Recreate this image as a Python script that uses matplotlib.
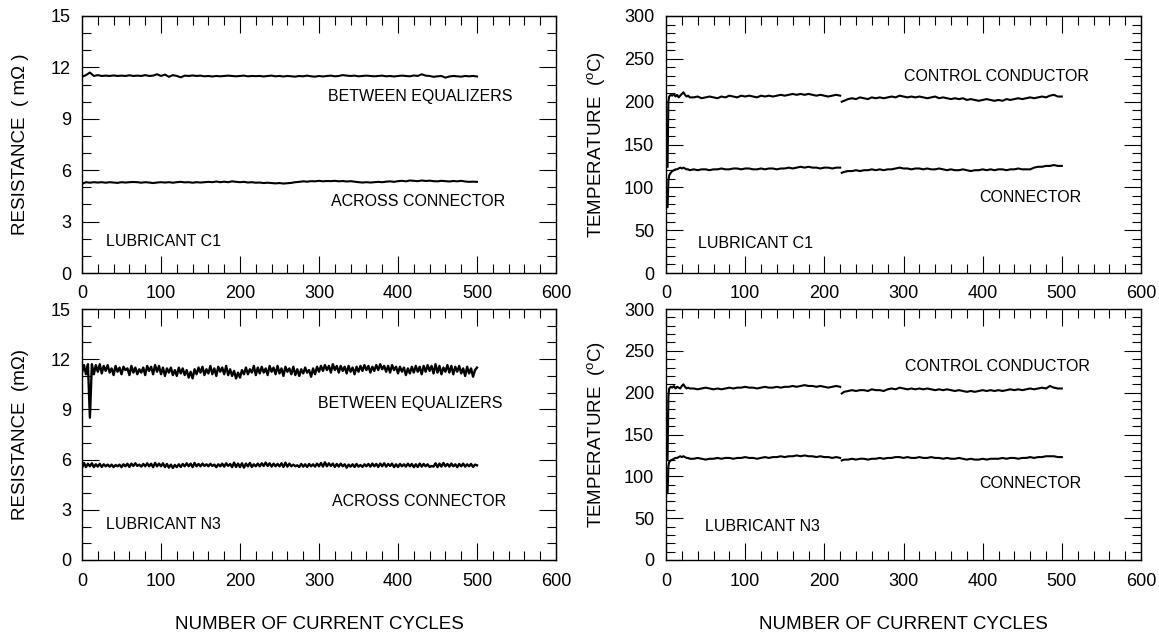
import matplotlib
matplotlib.use("Agg")
import matplotlib.pyplot as plt
from matplotlib.ticker import MultipleLocator

plt.rcParams["font.family"] = ["Liberation Sans", "DejaVu Sans"]
plt.rcParams["mathtext.fontset"] = "custom"
plt.rcParams["mathtext.rm"] = "Liberation Sans"

# ---- resistance data (mOhm) ----
R_X_C1 = list(range(0, 501, 5))
R_C1_EQ = [
    11.45, 11.55, 11.7, 11.5, 11.55, 11.5, 11.52, 11.5, 11.53, 11.5,
    11.52, 11.5, 11.54, 11.5, 11.52, 11.5, 11.55, 11.5, 11.52, 11.6,
    11.5, 11.58, 11.45, 11.55, 11.5, 11.42, 11.52, 11.5, 11.53, 11.5,
    11.52, 11.48, 11.5, 11.47, 11.5, 11.48, 11.5, 11.52, 11.5, 11.48,
    11.5, 11.52, 11.48, 11.5, 11.49, 11.5, 11.47, 11.5, 11.52, 11.48,
    11.5, 11.47, 11.5, 11.48, 11.46, 11.5, 11.48, 11.52, 11.48, 11.46,
    11.5, 11.47, 11.5, 11.52, 11.48, 11.5, 11.55, 11.52, 11.5, 11.52,
    11.48, 11.5, 11.52, 11.5, 11.48, 11.5, 11.52, 11.48, 11.5, 11.47,
    11.5, 11.52, 11.5, 11.48, 11.53, 11.5, 11.6, 11.52, 11.5, 11.45,
    11.48, 11.5, 11.4, 11.47, 11.5, 11.48, 11.46, 11.5, 11.48, 11.5,
    11.47,
]
R_C1_CONN = [
    5.2, 5.3, 5.27, 5.3, 5.28, 5.3, 5.27, 5.3, 5.28, 5.26,
    5.3, 5.28, 5.3, 5.31, 5.3, 5.27, 5.3, 5.28, 5.25, 5.28,
    5.3, 5.28, 5.3, 5.27, 5.3, 5.32, 5.29, 5.3, 5.27, 5.3,
    5.28, 5.3, 5.32, 5.3, 5.34, 5.3, 5.33, 5.3, 5.35, 5.32,
    5.3, 5.32, 5.28, 5.3, 5.27, 5.28, 5.25, 5.27, 5.25, 5.23,
    5.25, 5.22, 5.24, 5.26, 5.3, 5.32, 5.35, 5.33, 5.36, 5.35,
    5.38, 5.35, 5.37, 5.36, 5.38, 5.35, 5.37, 5.34, 5.36, 5.33,
    5.3, 5.28, 5.3, 5.28, 5.3, 5.32, 5.3, 5.33, 5.35, 5.32,
    5.36, 5.38, 5.35, 5.4, 5.38, 5.36, 5.4, 5.37, 5.39, 5.36,
    5.35, 5.38, 5.36, 5.34, 5.37, 5.35, 5.38, 5.34, 5.32, 5.33,
    5.32,
]

R_X_N3 = [i * 2.5 for i in range(201)]
R_N3_EQ = [
    11.2, 11.65, 11.1, 11.7, 8.5, 11.7, 11.1, 11.65, 11.25, 11.7,
    11.15, 11.6, 11.3, 11.65, 11.2, 11.45, 11.05, 11.6, 11.25, 11.5,
    11.1, 11.55, 11.35, 11.45, 11.05, 11.6, 11.2, 11.5, 11.1, 11.4,
    11.2, 11.5, 11.05, 11.6, 11.3, 11.55, 11.1, 11.65, 11.25, 11.6,
    11.1, 11.5, 11.0, 11.45, 11.2, 11.5, 11.05, 11.35, 11.0, 11.5,
    11.15, 11.45, 11.05, 11.35, 10.9, 11.25, 10.85, 11.4, 11.1, 11.5,
    11.2, 11.55, 11.05, 11.4, 11.15, 11.6, 11.1, 11.45, 11.0, 11.55,
    11.25, 11.5, 11.1, 11.6, 11.05, 11.4, 11.0, 11.3, 10.85, 11.2,
    10.9, 11.35, 11.1, 11.5, 11.1, 11.4, 11.2, 11.6, 11.05, 11.5,
    11.15, 11.55, 11.2, 11.45, 11.05, 11.6, 11.25, 11.5, 11.1, 11.6,
    11.15, 11.45, 11.0, 11.55, 11.25, 11.45, 11.1, 11.55, 11.05, 11.4,
    11.0, 11.4, 11.15, 11.5, 11.2, 11.35, 10.95, 11.45, 11.1, 11.55,
    11.25, 11.6, 11.3, 11.65, 11.35, 11.6, 11.2, 11.7, 11.35, 11.6,
    11.2, 11.6, 11.3, 11.55, 11.15, 11.6, 11.25, 11.5, 11.1, 11.55,
    11.25, 11.6, 11.3, 11.65, 11.35, 11.6, 11.2, 11.55, 11.3, 11.65,
    11.35, 11.7, 11.4, 11.6, 11.25, 11.6, 11.2, 11.65, 11.35, 11.55,
    11.15, 11.55, 11.25, 11.5, 11.05, 11.45, 11.15, 11.55, 11.2, 11.6,
    11.25, 11.55, 11.1, 11.6, 11.25, 11.65, 11.3, 11.6, 11.15, 11.7,
    11.2, 11.6, 11.1, 11.5, 11.25, 11.65, 11.2, 11.6, 11.1, 11.55,
    11.25, 11.6, 11.15, 11.45, 11.0, 11.55, 11.15, 11.45, 10.95, 11.35,
    11.5,
]
R_N3_CONN = [
    5.5, 5.8, 5.55, 5.75, 5.6, 5.78, 5.55, 5.72, 5.58, 5.75,
    5.56, 5.72, 5.6, 5.7, 5.58, 5.7, 5.55, 5.68, 5.6, 5.7,
    5.55, 5.72, 5.6, 5.75, 5.56, 5.76, 5.62, 5.78, 5.62, 5.7,
    5.58, 5.74, 5.6, 5.78, 5.6, 5.75, 5.55, 5.8, 5.6, 5.76,
    5.6, 5.78, 5.55, 5.74, 5.52, 5.7, 5.5, 5.68, 5.55, 5.72,
    5.56, 5.74, 5.6, 5.78, 5.6, 5.76, 5.55, 5.8, 5.6, 5.74,
    5.6, 5.76, 5.62, 5.72, 5.6, 5.75, 5.62, 5.7, 5.55, 5.72,
    5.6, 5.76, 5.58, 5.78, 5.62, 5.74, 5.55, 5.82, 5.56, 5.76,
    5.55, 5.78, 5.52, 5.76, 5.6, 5.8, 5.56, 5.72, 5.6, 5.76,
    5.6, 5.78, 5.62, 5.82, 5.62, 5.78, 5.58, 5.76, 5.6, 5.74,
    5.6, 5.78, 5.56, 5.82, 5.58, 5.76, 5.6, 5.7, 5.6, 5.66,
    5.56, 5.74, 5.58, 5.72, 5.56, 5.74, 5.6, 5.72, 5.58, 5.76,
    5.6, 5.8, 5.58, 5.84, 5.6, 5.78, 5.62, 5.76, 5.56, 5.74,
    5.58, 5.76, 5.6, 5.72, 5.52, 5.7, 5.58, 5.72, 5.56, 5.74,
    5.58, 5.68, 5.56, 5.72, 5.6, 5.74, 5.58, 5.76, 5.6, 5.74,
    5.56, 5.76, 5.6, 5.78, 5.58, 5.74, 5.62, 5.76, 5.55, 5.72,
    5.56, 5.74, 5.6, 5.72, 5.58, 5.76, 5.6, 5.74, 5.55, 5.72,
    5.56, 5.76, 5.58, 5.74, 5.6, 5.72, 5.56, 5.62, 5.58, 5.78,
    5.55, 5.76, 5.58, 5.8, 5.6, 5.74, 5.58, 5.76, 5.6, 5.72,
    5.55, 5.74, 5.6, 5.76, 5.58, 5.72, 5.6, 5.74, 5.56, 5.7,
    5.66,
]

# ---- temperature data (deg C); recording restarts after cycle 220 ----
T_X1 = [2, 3, 4, 6, 8, 10, 12, 14, 16, 18, 20, 22, 24, 26, 28, 30] + list(range(35, 221, 5))
T_X2 = [222] + list(range(225, 501, 5))

T_C1_CTRL_1 = [
    124, 200, 206, 208, 207, 209, 206, 208, 205, 207, 209, 211, 208, 206, 207, 205,
    205, 206, 204, 205, 206, 205, 204, 206, 205, 207, 206, 205, 207, 206, 207, 206, 205, 207,
    206, 207, 206, 207, 208, 207, 208, 209, 208, 209, 208, 209, 208, 207, 208, 207, 206, 207,
    208, 207,
]
T_C1_CTRL_2 = [
    200, 201, 203, 204, 203, 205, 204, 203, 205, 204,
    205, 204, 205, 206, 205, 207, 206, 205, 206, 205,
    206, 205, 204, 205, 206, 204, 205, 204, 203, 204,
    203, 204, 202, 203, 202, 201, 202, 203, 202, 201,
    202, 201, 203, 202, 203, 204, 203, 204, 205, 204,
    205, 206, 205, 207, 208, 206, 206,
]
T_C1_CONN_1 = [
    77, 108, 114, 117, 119, 120, 121, 121, 122, 123, 122, 123, 122, 121, 121, 120,
    121, 120, 121, 121, 120, 121, 121, 122, 121, 121, 122, 122, 121, 122, 122, 121, 121, 122,
    121, 122, 122, 121, 122, 122, 123, 122, 123, 124, 123, 124, 123, 123, 122, 123, 123, 122,
    123, 123,
]
T_C1_CONN_2 = [
    117, 118, 119, 119, 120, 119, 120, 120, 121, 120,
    121, 120, 121, 121, 122, 123, 122, 122, 121, 122,
    122, 121, 122, 121, 121, 122, 121, 120, 121, 120,
    120, 121, 120, 119, 120, 120, 121, 120, 121, 120,
    121, 121, 120, 121, 121, 122, 121, 121, 121, 123,
    124, 124, 125, 125, 126, 125, 125,
]
T_N3_CTRL_1 = [
    120, 195, 205, 207, 206, 208, 205, 207, 206, 205, 208, 210, 207, 205, 206, 205,
    205, 204, 205, 206, 205, 204, 205, 204, 205, 206, 205, 206, 206, 207, 206, 206, 205, 206,
    207, 206, 206, 207, 206, 207, 207, 208, 207, 208, 209, 208, 208, 207, 208, 207, 206, 207,
    208, 207,
]
T_N3_CTRL_2 = [
    199, 201, 202, 203, 202, 203, 203, 202, 204, 203,
    203, 202, 204, 205, 204, 206, 205, 204, 205, 204,
    205, 204, 205, 204, 203, 204, 203, 204, 203, 202,
    203, 202, 201, 202, 201, 202, 203, 202, 203, 202,
    203, 202, 203, 204, 203, 204, 203, 204, 205, 204,
    205, 206, 205, 208, 206, 205, 205,
]
T_N3_CONN_1 = [
    80, 112, 117, 119, 120, 121, 122, 122, 123, 124, 123, 124, 123, 122, 122, 121,
    121, 122, 121, 120, 121, 121, 122, 121, 122, 122, 121, 122, 122, 123, 122, 122, 121, 122,
    123, 122, 123, 123, 124, 123, 124, 124, 125, 124, 125, 124, 124, 123, 124, 123, 123, 122,
    123, 122,
]
T_N3_CONN_2 = [
    119, 120, 120, 121, 120, 121, 121, 120, 121, 121,
    122, 121, 122, 122, 123, 123, 122, 123, 122, 122,
    123, 122, 122, 123, 122, 122, 121, 122, 121, 121,
    122, 121, 120, 121, 120, 120, 121, 120, 121, 121,
    121, 122, 121, 122, 122, 121, 122, 122, 123, 122,
    123, 123, 124, 124, 124, 123, 123,
]

W, H = 1159, 637
fig = plt.figure(figsize=(W / 100, H / 100), dpi=100)


def box(l, t, r, b):
    return [l / W, 1 - b / H, (r - l) / W, (b - t) / H]


ax_rc = fig.add_axes(box(82, 16, 556, 273))
ax_tc = fig.add_axes(box(666, 16, 1141, 273))
ax_rn = fig.add_axes(box(82, 309, 556, 560))
ax_tn = fig.add_axes(box(666, 309, 1141, 560))


def style(ax, ymax, ymaj, ymin, ypad):
    ax.set_xlim(0, 600)
    ax.set_ylim(0, ymax)
    ax.xaxis.set_major_locator(MultipleLocator(100))
    ax.xaxis.set_minor_locator(MultipleLocator(20))
    ax.yaxis.set_major_locator(MultipleLocator(ymaj))
    ax.yaxis.set_minor_locator(MultipleLocator(ymin))
    ax.tick_params(which="both", direction="in", top=True, right=True, width=0.8, color="black")
    ax.tick_params(which="major", length=12.5)
    ax.tick_params(which="minor", length=6.5)
    ax.tick_params(axis="x", which="major", pad=9, labelsize=13)
    ax.tick_params(axis="y", which="major", pad=ypad, labelsize=13)
    for s in ax.spines.values():
        s.set_linewidth(1.0)


LW = 1.5
LW_NOISY = 1.7
txt = dict(fontsize=11.5, va="center")
LAB = 13.5

# top-left: resistance, lubricant C1
ax = ax_rc
ax.plot(R_X_C1, R_C1_EQ, color="black", lw=LW)
ax.plot(R_X_C1, R_C1_CONN, color="black", lw=LW)
style(ax, 15, 3, 1, 8)
ax.text(428, 10.3, "BETWEEN EQUALIZERS", ha="center", **txt)
ax.text(426, 4.15, "ACROSS CONNECTOR", ha="center", **txt)
ax.text(30, 1.85, "LUBRICANT C1", ha="left", **txt)
ax.set_ylabel("RESISTANCE  ( m\u03a9 )", fontsize=LAB)
ax.yaxis.set_label_coords(-0.112, 0.5)

# top-right: temperature, lubricant C1
ax = ax_tc
ax.plot(T_X1, T_C1_CTRL_1, color="black", lw=LW)
ax.plot(T_X2, T_C1_CTRL_2, color="black", lw=LW)
ax.plot(T_X1, T_C1_CONN_1, color="black", lw=LW)
ax.plot(T_X2, T_C1_CONN_2, color="black", lw=LW)
style(ax, 300, 50, 10, 8.5)
ax.text(418, 229, "CONTROL CONDUCTOR", ha="center", **txt)
ax.text(460, 88, "CONNECTOR", ha="center", **txt)
ax.text(40, 35, "LUBRICANT C1", ha="left", **txt)
ax.set_ylabel(r"TEMPERATURE  ($^{\rm o}$C)", fontsize=LAB)
ax.yaxis.set_label_coords(-0.122, 0.5)

# bottom-left: resistance, lubricant N3
ax = ax_rn
ax.plot(R_X_N3, R_N3_EQ, color="black", lw=LW_NOISY)
ax.plot(R_X_N3, R_N3_CONN, color="black", lw=LW_NOISY)
style(ax, 15, 3, 1, 8)
ax.text(416, 9.36, "BETWEEN EQUALIZERS", ha="center", **txt)
ax.text(427, 3.5, "ACROSS CONNECTOR", ha="center", **txt)
ax.text(30, 2.13, "LUBRICANT N3", ha="left", **txt)
ax.set_ylabel("RESISTANCE  (m\u03a9)", fontsize=LAB)
ax.yaxis.set_label_coords(-0.112, 0.5)
ax.set_xlabel("NUMBER OF CURRENT CYCLES", fontsize=LAB)
ax.xaxis.set_label_coords(0.5, -0.225)

# bottom-right: temperature, lubricant N3
ax = ax_tn
ax.plot(T_X1, T_N3_CTRL_1, color="black", lw=LW)
ax.plot(T_X2, T_N3_CTRL_2, color="black", lw=LW)
ax.plot(T_X1, T_N3_CONN_1, color="black", lw=LW)
ax.plot(T_X2, T_N3_CONN_2, color="black", lw=LW)
style(ax, 300, 50, 10, 8.5)
ax.text(419, 231, "CONTROL CONDUCTOR", ha="center", **txt)
ax.text(460, 92, "CONNECTOR", ha="center", **txt)
ax.text(49, 40, "LUBRICANT N3", ha="left", **txt)
ax.set_ylabel(r"TEMPERATURE  ($^{\rm o}$C)", fontsize=LAB)
ax.yaxis.set_label_coords(-0.122, 0.5)
ax.set_xlabel("NUMBER OF CURRENT CYCLES", fontsize=LAB)
ax.xaxis.set_label_coords(0.5, -0.225)

fig.savefig("out.png", dpi=100)
